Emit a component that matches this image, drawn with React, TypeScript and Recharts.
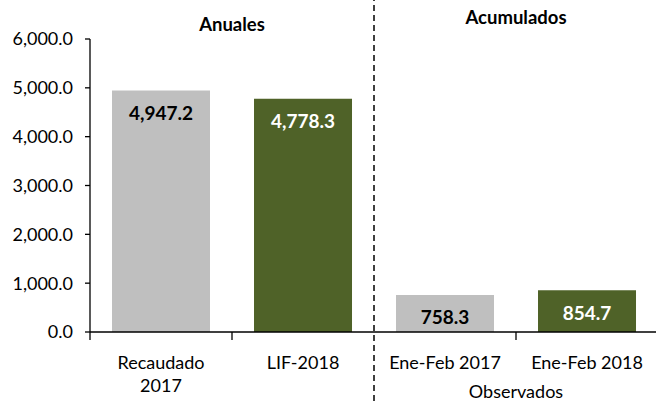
import React from "react";
import {
  BarChart,
  Bar,
  XAxis,
  YAxis,
  ReferenceLine,
  ReferenceArea,
  Cell,
  LabelList,
} from "recharts";

const categories = ["Recaudado\n2017", "LIF-2018", "Ene-Feb 2017", "Ene-Feb 2018"];
const values = [4947.2, 4778.3, 758.3, 854.7];
const barColors = ["#BFBFBF", "#4F6228", "#BFBFBF", "#4F6228"];
const labelColors = ["#000000", "#FFFFFF", "#000000", "#FFFFFF"];
const yTicks = [0, 1000, 2000, 3000, 4000, 5000, 6000];
const groupNames = ["Anuales", "Acumulados"];
const subGroupName = "Observados";

const FONT = "Lato, 'Open Sans', sans-serif";

// each category occupies one unit on a numeric axis so the separators can sit between them
const data = categories.map((name, i) => ({ pos: i + 0.5, name, value: values[i] }));
const xTicks = data.map((d) => d.pos);

const fmt = (v: number) =>
  v.toLocaleString("en-US", { minimumFractionDigits: 1, maximumFractionDigits: 1 });

const CategoryTick = (props: any) => {
  const { x, y, payload } = props;
  const name = categories[Math.floor(Number(payload.value))] ?? "";
  const lines = name.split("\n");
  return (
    <text x={x} y={y} textAnchor="middle" fill="#000" fontFamily={FONT} fontSize={18}>
      {lines.map((line, i) => (
        <tspan key={i} x={x} dy={i === 0 ? 35 : 23}>
          {line}
        </tspan>
      ))}
    </text>
  );
};

const BarValueLabel = (props: any) => {
  const { x, y, width, value, index } = props;
  return (
    <text
      x={x + width / 2}
      y={y + 22}
      textAnchor="middle"
      dominantBaseline="central"
      fill={labelColors[index] ?? "#000"}
      fontFamily={FONT}
      fontWeight="bold"
      fontSize={19}
    >
      {fmt(Number(value))}
    </text>
  );
};

const groupLabel = (value: string, bold: boolean) => ({
  value,
  position: "center" as const,
  fill: "#000",
  fontFamily: FONT,
  fontWeight: bold ? "bold" : "normal",
  fontSize: bold ? 18.5 : 18,
});

export default function App() {
  return (
    <div style={{ position: "absolute", left: 0, top: 0, width: 656, height: 403, overflow: "hidden" }}>
      <BarChart
        width={658}
        height={403}
        data={data}
        margin={{ top: 39, right: 0, left: 0, bottom: 41 }}
        barCategoryGap="15.5%"
      >
        <XAxis
          dataKey="pos"
          type="number"
          domain={[0, 4]}
          allowDataOverflow
          ticks={xTicks}
          interval={0}
          axisLine={{ stroke: "#000", strokeWidth: 1.3 }}
          tickLine={false}
          tickSize={0}
          height={30}
          tick={<CategoryTick />}
        />
        <YAxis
          domain={[0, 6000]}
          ticks={yTicks}
          width={90}
          tickSize={5}
          tickMargin={12}
          axisLine={{ stroke: "#000", strokeWidth: 1.3 }}
          tickLine={{ stroke: "#000", strokeWidth: 1.3 }}
          tick={{ fill: "#000", fontFamily: FONT, fontSize: 18 }}
          tickFormatter={fmt}
          interval={0}
        />
        <Bar dataKey="value" isAnimationActive={false}>
          {data.map((d, i) => (
            <Cell key={d.name} fill={barColors[i]} />
          ))}
          <LabelList dataKey="value" content={<BarValueLabel />} />
        </Bar>
        {[0, 1, 3].map((t) => (
          <ReferenceLine
            key={t}
            segment={[
              { x: t, y: 0 },
              { x: t, y: -165 },
            ]}
            stroke="#000"
            strokeWidth={1.3}
            ifOverflow="visible"
          />
        ))}
        <ReferenceLine
          segment={[
            { x: 2, y: 6900 },
            { x: 2, y: -1500 },
          ]}
          stroke="#000"
          strokeWidth={1.5}
          strokeDasharray="6 4"
          ifOverflow="visible"
        />
        <ReferenceArea
          x1={0}
          x2={2}
          y1={6000}
          y2={6580}
          fill="none"
          stroke="none"
          ifOverflow="visible"
          label={groupLabel(groupNames[0], true)}
        />
        <ReferenceArea
          x1={2}
          x2={4}
          y1={6000}
          y2={6880}
          fill="none"
          stroke="none"
          ifOverflow="visible"
          label={groupLabel(groupNames[1], true)}
        />
        <ReferenceArea
          x1={2}
          x2={4}
          y1={-1180}
          y2={-1280}
          fill="none"
          stroke="none"
          ifOverflow="visible"
          label={groupLabel(subGroupName, false)}
        />
      </BarChart>
    </div>
  );
}
